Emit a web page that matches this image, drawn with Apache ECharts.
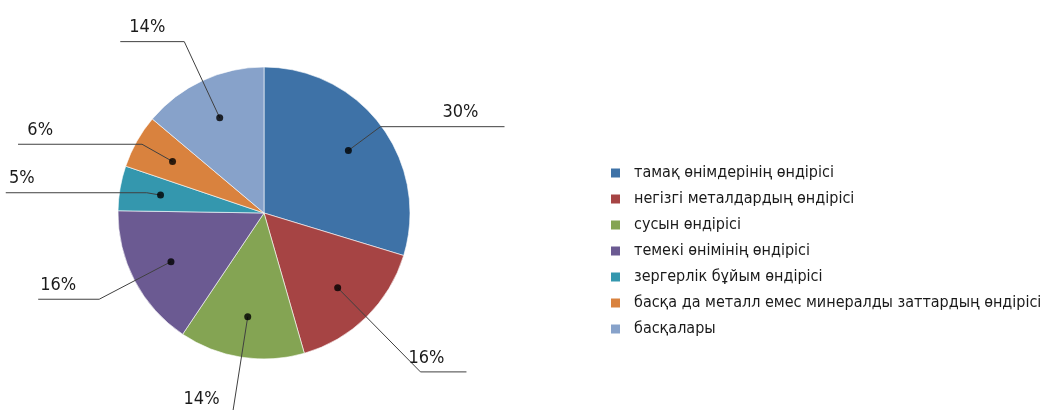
<!DOCTYPE html>
<html>
<head>
<meta charset="utf-8">
<script src="https://cdn.jsdelivr.net/npm/echarts@6/dist/echarts.min.js"></script>
<style>
html,body{margin:0;padding:0;background:#fff;}
#chart{width:1043px;height:410px;}
</style>
</head>
<body>
<div id="chart"></div>
<script>
// ---- data ----
const categories = [
  'тамақ өнімдерінің өндірісі',
  'негізгі металдардың өндірісі',
  'сусын өндірісі',
  'темекі өнімінің өндірісі',
  'зергерлік бұйым өндірісі',
  'басқа да металл емес минералды заттардың өндірісі',
  'басқалары'
];
const values = [30, 16, 14, 16, 5, 6, 14];

// ---- style ----
const colors = ['#3e72a7', '#a64444', '#84a453', '#6b5a92', '#3497ae', '#d9823e', '#87a2ca'];
const FONT = "'DejaVu Sans Condensed', 'Liberation Sans Narrow', sans-serif";
const CENTER = [264, 213];
const PIE_R = 146;
const DOT_R = 105;
// leader line settings per slice: first segment length, horizontal length, label offset
const guideLen = [40, 118, 98, 81, 14, 35, 84];
const guideLen2 = [124, 46, 50, 61, 141, 124, 64];
const guideDist = [-62, -58, -37, -38, -29, -35, -45];

const total = values.reduce((a, b) => a + b, 0);
const mids = [];
let acc = 0;
values.forEach(v => { mids.push(acc + v / 2); acc += v; });

const chart = echarts.init(document.getElementById('chart'), null, {renderer: 'canvas'});
chart.setOption({
  animation: false,
  backgroundColor: '#fff',
  color: colors,
  legend: {
    orient: 'vertical',
    left: 609,
    top: 163,
    padding: 0,
    itemWidth: 11,
    itemHeight: 11,
    itemGap: 6,
    icon: 'rect',
    selectedMode: false,
    data: categories,
    textStyle: {fontFamily: FONT, fontSize: 16, lineHeight: 20, color: '#1a1a1a', padding: [0, 0, 0, 8]}
  },
  polar: {center: CENTER, radius: PIE_R},
  angleAxis: {type: 'value', min: 0, max: total, startAngle: 90, clockwise: true, show: false},
  radiusAxis: {type: 'value', min: 0, max: PIE_R, show: false},
  series: [
    {
      type: 'pie',
      center: CENTER,
      radius: [0, PIE_R],
      startAngle: 90,
      clockwise: true,
      avoidLabelOverlap: false,
      silent: true,
      label: {show: false},
      labelLine: {show: false},
      itemStyle: {borderColor: '#ffffff', borderWidth: 0.6},
      data: categories.map((c, i) => ({name: c, value: values[i]}))
    },
    {
      type: 'pie',
      center: CENTER,
      radius: [0, DOT_R],
      startAngle: 90,
      clockwise: true,
      avoidLabelOverlap: false,
      silent: true,
      z: 3,
      labelLayout: {hideOverlap: false},
      itemStyle: {color: 'rgba(0,0,0,0)'},
      label: {
        show: true,
        position: 'outside',
        fontFamily: FONT,
        fontSize: 18,
        color: '#1a1a1a',
        formatter: p => '{a|' + values[p.dataIndex] + '%}\n{b| }',
        rich: {
          a: {fontFamily: FONT, fontSize: 18, lineHeight: 18, color: '#1a1a1a'},
          b: {fontSize: 4, lineHeight: 28, height: 28}
        }
      },
      labelLine: {show: true, lineStyle: {color: '#404040', width: 1}},
      data: categories.map((c, i) => ({
        name: c,
        value: values[i],
        labelLine: {length: guideLen[i], length2: guideLen2[i]},
        label: {distanceToLabelLine: guideDist[i]}
      }))
    },
    {
      type: 'scatter',
      coordinateSystem: 'polar',
      symbol: 'circle',
      symbolSize: 7,
      silent: true,
      z: 4,
      itemStyle: {color: '#000'},
      data: mids.map(m => [DOT_R, m])
    }
  ]
});
</script>
</body>
</html>
